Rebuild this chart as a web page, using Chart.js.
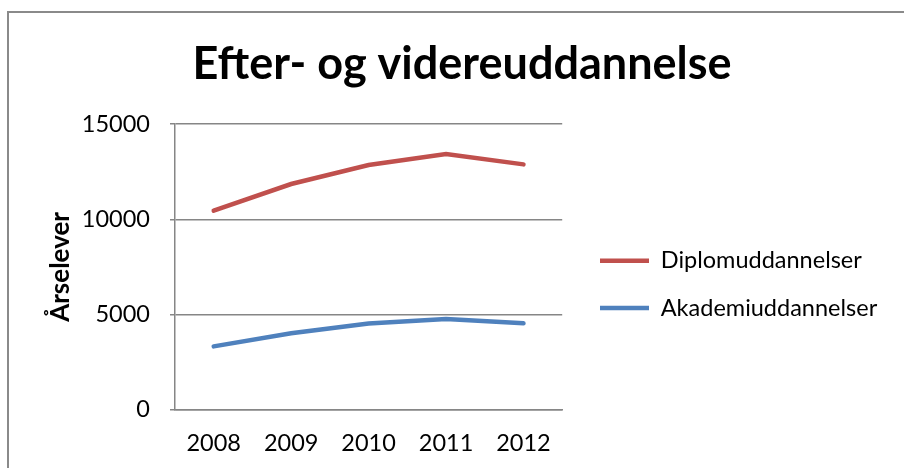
<!DOCTYPE html>
<html>
<head>
<meta charset="utf-8">
<script src="https://cdn.jsdelivr.net/npm/chart.js@4"></script>
<style>
body{margin:0;background:#fff;}
#frame{position:absolute;left:7px;top:11px;width:1000px;height:1000px;border-left:2px solid #8a8a8a;border-top:2px solid #8a8a8a;}
#wrap{position:absolute;left:0;top:0;width:904px;height:468px;}
</style>
</head>
<body>
<div id="frame"></div>
<div id="wrap"><canvas id="chart"></canvas></div>
<script>
const years=["2008","2009","2010","2011","2012"];
const diplom=[10450,11850,12850,13420,12880];
const akademi=[3330,4020,4530,4770,4540];
const yTicks=[0,5000,10000,15000];
const seriesNames=["Diplomuddannelser","Akademiuddannelser"];

// legend width -> paddings so the plot sits at x 175..561 and legend starts at 600
const legendFont=23.5,legendPad=23.8,legendLine=49;
const m=document.createElement("canvas").getContext("2d");
m.font=legendFont+"px Lato";
const tw=Math.max(...seriesNames.map(s=>m.measureText(s).width));
const legendW=legendPad+legendLine+legendFont/2+tw+10;
const padR=Math.max(0,904-(600-legendPad)-legendW);
const padL=924-904+padR;

new Chart(document.getElementById("chart"),{
type:"line",
data:{
labels:years,
datasets:[{
label:seriesNames[0],
data:diplom,
borderColor:"#C0504D",
backgroundColor:"#C0504D",
borderWidth:4.5,
borderCapStyle:"round",
pointRadius:0,
tension:0
},{
label:seriesNames[1],
data:akademi,
borderColor:"#4F81BD",
backgroundColor:"#4F81BD",
borderWidth:4.5,
borderCapStyle:"round",
pointRadius:0,
tension:0
}]
},
options:{
responsive:true,
maintainAspectRatio:false,
animation:false,
layout:{padding:{left:padL,right:padR,top:0,bottom:10}},
plugins:{
title:{
display:true,
text:"Efter- og videreuddannelse",
color:"#000",
font:{family:"Lato",size:45,weight:"bold"},
padding:{top:37,bottom:33}
},
legend:{
position:"right",
fullSize:false,
maxWidth:420,
title:{display:true,text:"",font:{size:29},padding:0},
labels:{
usePointStyle:true,
pointStyle:"line",
pointStyleWidth:legendLine,
color:"#000",
font:{family:"Lato",size:legendFont},
padding:legendPad
}
},
tooltip:{enabled:false}
},
scales:{
x:{
offset:true,
grid:{display:false,tickLength:20},
border:{color:"#868686",width:1.5},
ticks:{color:"#000",font:{family:"Lato",size:23.5},padding:0}
},
y:{
min:0,
max:15000,
afterBuildTicks:s=>{s.ticks=yTicks.map(v=>({value:v}));},
afterFit:s=>{s.width=175-padL;},
grid:{color:"#868686",lineWidth:1.5,tickLength:5},
border:{color:"#868686",width:1.5},
ticks:{color:"#000",font:{family:"Lato",size:23.5},padding:20,callback:v=>String(v)},
title:{display:true,text:"Årselever",color:"#000",font:{family:"Lato",size:26,weight:"bold"},padding:{top:45.5-padL,bottom:0}}
},
gap:{
type:"linear",
position:"right",
display:true,
grid:{display:false},
border:{display:false},
ticks:{display:false},
afterFit:s=>{s.width=14;}
}
}
}
});
</script>
</body>
</html>
